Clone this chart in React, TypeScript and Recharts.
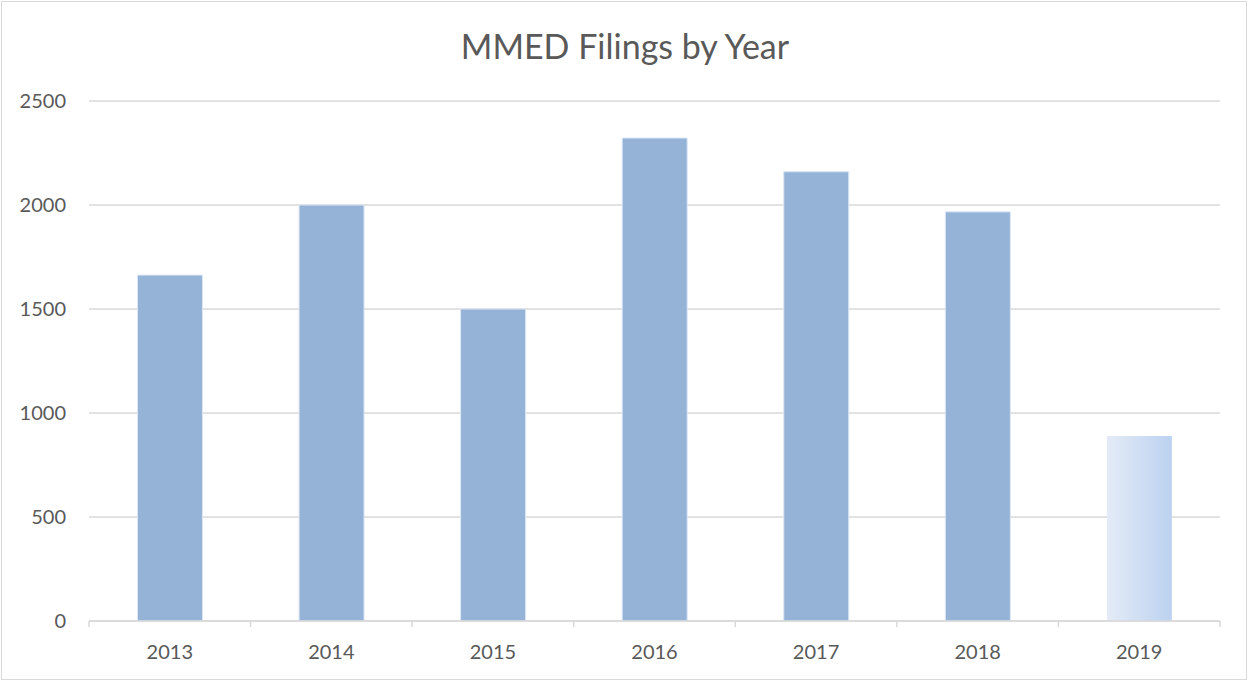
import { BarChart, Bar, XAxis, YAxis, CartesianGrid, Cell } from "recharts";

const years = ["2013", "2014", "2015", "2016", "2017", "2018", "2019"];
const filings = [1663, 2000, 1500, 2322, 2160, 1967, 889];
const yTicks = [0, 500, 1000, 1500, 2000, 2500];

const data = years.map((year, i) => ({ year, filings: filings[i] }));

const W = 1252;
const H = 683;
const FONT = "Lato, 'Open Sans', sans-serif";
const GRID = "#d9d9d9";
const TEXT = "#595959";

// Excel-style category axis: ticks sit at the band edges, labels in the middle
function YearTick(props: any) {
  const { x, y, payload, index, visibleTicksCount } = props;
  const half = payload && payload.offset ? payload.offset : (W - 89 - 32) / 14;
  const last = index === (visibleTicksCount ?? years.length) - 1;
  return (
    <g>
      <line x1={x - half} x2={x - half} y1={y} y2={y + 6} stroke={GRID} strokeWidth={1.5} />
      {last && (
        <line x1={x + half} x2={x + half} y1={y} y2={y + 6} stroke={GRID} strokeWidth={1.5} />
      )}
      <text x={x} y={y + 38} textAnchor="middle" fill={TEXT} fontSize={20} fontFamily={FONT}>
        {payload.value}
      </text>
    </g>
  );
}

export default function App() {
  return (
    <div
      style={{
        position: "absolute",
        left: 0,
        top: 0,
        width: W,
        height: H,
        background: "#fff",
      }}
    >
      <div
        style={{
          position: "absolute",
          left: 1,
          top: 1,
          width: 1246,
          height: 679,
          border: `1.5px solid ${GRID}`,
          boxSizing: "border-box",
          pointerEvents: "none",
        }}
      />
      <div
        style={{
          position: "absolute",
          left: 0,
          top: 26,
          width: W - 2,
          textAlign: "center",
          fontFamily: FONT,
          fontSize: 34,
          color: TEXT,
          lineHeight: "40px",
        }}
      >
        MMED Filings by Year
      </div>
      <BarChart
        width={W}
        height={H}
        data={data}
        margin={{ top: 101, right: 32, left: 19, bottom: 0 }}
        barCategoryGap="30%"
      >
        <defs>
          <linearGradient id="fade2019" x1="0" y1="0" x2="1" y2="0">
            <stop offset="0%" stopColor="#e4ebf7" />
            <stop offset="100%" stopColor="#bcd2f0" />
          </linearGradient>
        </defs>
        <CartesianGrid vertical={false} stroke={GRID} strokeWidth={1.5} />
        <XAxis
          dataKey="year"
          height={62}
          axisLine={{ stroke: GRID, strokeWidth: 1.5 }}
          tickLine={false}
          tickSize={0}
          tickMargin={0}
          tick={<YearTick />}
          interval={0}
        />
        <YAxis
          width={70}
          domain={[0, 2500]}
          ticks={yTicks}
          axisLine={false}
          tickLine={false}
          tickSize={0}
          tickMargin={23}
          tick={{ fill: TEXT, fontSize: 20, fontFamily: FONT }}
        />
        <Bar dataKey="filings" isAnimationActive={false} stroke="#dce6f4" strokeWidth={1}>
          {data.map((d, i) => (
            <Cell
              key={d.year}
              fill={d.year === "2019" ? "url(#fade2019)" : "#95b3d7"}
              stroke={d.year === "2019" ? "none" : "#dce6f4"}
            />
          ))}
        </Bar>
      </BarChart>
    </div>
  );
}
